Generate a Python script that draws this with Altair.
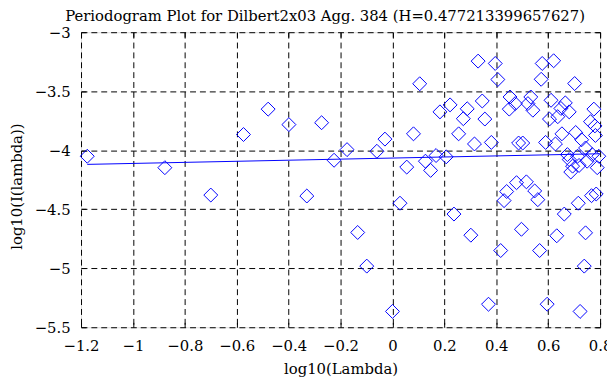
import altair as alt
import pandas as pd

# periodogram points (log10 frequency, log10 power)
log_lambda = [
    -1.176, -0.877, -0.700, -0.574, -0.479, -0.399, -0.330, -0.273, -0.225,
    -0.175, -0.134, -0.099, -0.060, -0.029, 0.000, 0.029, 0.055, 0.081, 0.105,
    0.127, 0.147, 0.168, 0.183, 0.207, 0.222, 0.237, 0.255, 0.273, 0.288,
    0.302, 0.316, 0.330, 0.346, 0.356, 0.370, 0.381, 0.396, 0.406, 0.417,
    0.430, 0.440, 0.450, 0.453, 0.473, 0.478, 0.486, 0.497, 0.502, 0.516,
    0.522, 0.533, 0.541, 0.548, 0.560, 0.567, 0.573, 0.577, 0.590, 0.596,
    0.605, 0.611, 0.621, 0.628, 0.633, 0.637, 0.649, 0.653, 0.662, 0.666,
    0.674, 0.681, 0.681, 0.687, 0.694, 0.702, 0.706, 0.713, 0.716, 0.719,
    0.723, 0.729, 0.739, 0.744, 0.744, 0.750, 0.763, 0.767, 0.770, 0.776,
    0.780, 0.782, 0.785, 0.789, 0.795,
]
log_I = [
    -4.051, -4.148, -4.380, -3.867, -3.652, -3.783, -4.388, -3.767, -4.085,
    -3.995, -4.697, -4.982, -4.009, -3.906, -5.366, -4.449, -4.143, -3.861, -3.437,
    -4.093, -4.171, -4.045, -3.675, -4.056, -3.616, -4.541, -3.861, -3.733, -3.649,
    -4.720, -3.947, -3.245, -3.583, -3.736, -5.305, -3.934, -3.265, -3.401, -4.850,
    -4.427, -4.350, -3.652, -3.549, -3.605, -4.275, -3.939, -4.670, -3.939, -4.268,
    -3.605, -3.549, -3.661, -4.345, -4.419, -4.850, -3.399, -3.265, -3.934, -5.305,
    -3.736, -3.577, -3.242, -3.947, -4.725, -3.716, -3.646, -3.861, -4.541, -3.599,
    -4.037, -3.675, -4.079, -4.185, -4.135, -3.435, -3.850, -4.051, -4.449, -4.129,
    -5.366, -3.911, -4.982, -3.981, -4.700, -4.093, -3.758, -4.385, -4.037, -3.652,
    -3.794, -3.875, -4.371, -4.148, -4.051,
]

# least-squares fit line endpoints
fit_x = [-1.176, 0.800]
fit_y = [-4.120, -4.030]

x_ticks = [-1.2, -1.0, -0.8, -0.6, -0.4, -0.2, 0.0, 0.2, 0.4, 0.6, 0.8]
y_ticks = [-3.0, -3.5, -4.0, -4.5, -5.0, -5.5]

title_text = "Periodogram Plot for Dilbert2x03 Agg. 384 (H=0.477213399657627)"

pts = pd.DataFrame({"x": log_lambda, "y": log_I})
fit = pd.DataFrame({"x": fit_x, "y": fit_y})

W, H = 526, 299
FONT = "DejaVu Serif"
xs = alt.Scale(domain=[-1.2, 0.8], nice=False, zero=False)
ys = alt.Scale(domain=[-5.5, -3.0], nice=False, zero=False)

points = alt.Chart(pts).mark_point(
    shape="diamond", filled=False, color="#0000ff", size=200, strokeWidth=1, opacity=1
).encode(
    x=alt.X("x:Q", scale=xs, axis=alt.Axis(
        orient="bottom", values=x_ticks, format="~g", grid=True, gridColor="black",
        gridDash=[6, 4], gridWidth=1, gridOpacity=1, ticks=False, tickSize=0,
        domain=False, labelPadding=12, labelFont=FONT, labelFontSize=15,
        labelFlush=False, labelOverlap=False,
        labelColor="black", title="log10(Lambda)", titleFont=FONT, titleFontSize=15,
        titleFontWeight="normal", titleColor="black", titleY=47,
        titleBaseline="alphabetic")),
    y=alt.Y("y:Q", scale=ys, axis=alt.Axis(
        orient="left", values=y_ticks, format="~g", grid=True, gridColor="black",
        gridDash=[6, 4], gridWidth=1, gridOpacity=1, ticks=False, tickSize=0,
        domain=False, labelPadding=11, labelFont=FONT, labelFontSize=15,
        labelFlush=False, labelOverlap=False,
        labelColor="black", title="log10(I(lambda))", titleFont=FONT,
        titleFontSize=15, titleFontWeight="normal", titleColor="black",
        titleX=-60, titleY=156, titleAngle=270, titleBaseline="alphabetic")),
)

line = alt.Chart(fit).mark_line(color="#0000ff", strokeWidth=1).encode(
    x=alt.X("x:Q", scale=xs, axis=alt.Axis(
        orient="top", offset=-H, values=x_ticks, labels=False, grid=False,
        domain=False, ticks=True, tickSize=5, tickColor="black", tickWidth=1,
        title=None)),
    y=alt.Y("y:Q", scale=ys, axis=alt.Axis(
        orient="right", offset=-W, values=y_ticks, labels=False, grid=False,
        domain=False, ticks=True, tickSize=5, tickColor="black", tickWidth=1,
        title=None)),
)

ticks2 = alt.Chart(fit).mark_line(opacity=0).encode(
    x=alt.X("x:Q", scale=xs, axis=alt.Axis(
        orient="bottom", offset=-H, values=x_ticks, labels=False, grid=False,
        domain=False, ticks=True, tickSize=5, tickColor="black", tickWidth=1,
        title=None)),
    y=alt.Y("y:Q", scale=ys, axis=alt.Axis(
        orient="left", offset=-W, values=y_ticks, labels=False, grid=False,
        domain=False, ticks=True, tickSize=5, tickColor="black", tickWidth=1,
        title=None)),
)

chart = alt.layer(points, line, ticks2).resolve_axis(
    x="independent", y="independent"
).properties(
    width=W, height=H,
    autosize=alt.AutoSizeParams(type="none"),
    padding={"left": 74, "top": 22, "right": 7, "bottom": 56},
    title=alt.TitleParams(
        text=title_text, anchor="start", frame="group", dx=-16, offset=1,
        font=FONT, fontSize=15, fontWeight="normal", color="black",
        baseline="top"),
).configure_view(
    stroke="black", strokeWidth=1.5
).configure(background="white")

chart.save("out.html", embed_options={"renderer": "svg", "actions": False})
